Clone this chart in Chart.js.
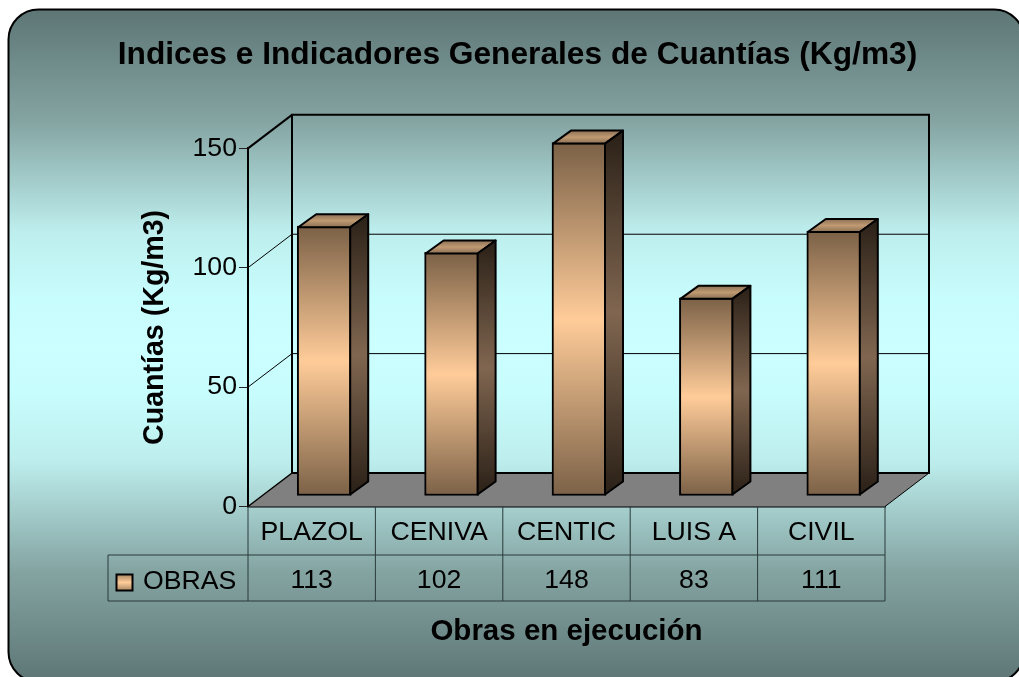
<!DOCTYPE html>
<html lang="es">
<head>
<meta charset="utf-8">
<title>Cuantías</title>
<script src="https://cdn.jsdelivr.net/npm/chart.js@4/dist/chart.umd.js"></script>
<style>
  html, body { margin: 0; background: #fff; }
  canvas { display: block; }
</style>
</head>
<body>
<canvas id="chart" width="1019" height="677"></canvas>
<script>
const categories = ['PLAZOL', 'CENIVA', 'CENTIC', 'LUIS A', 'CIVIL'];
const obrasValues = [113, 102, 148, 83, 111];
const seriesName = 'OBRAS';
const chartTitle = 'Indices e Indicadores Generales de Cuantías (Kg/m3)';
const yTitle = 'Cuantías (Kg/m3)';
const xTitle = 'Obras en ejecución';

const FONT = '"Liberation Sans", Arial, sans-serif';
const TXT = 26.67;
const WALL_DX = 44, WALL_DY = 33.5;   // back wall offset
const BAR_DX = 12.5, BAR_DY = 10.5;   // bars stand inside the floor
const SIDE_DX = 18, SIDE_DY = 13;     // bar depth
const ROW1 = 555, ROW2 = 601, KEY_LEFT = 108;

function vGrad(ctx, y0, y1, stops) {
  const g = ctx.createLinearGradient(0, y0, 0, y1);
  stops.forEach((c, i) => g.addColorStop(i / (stops.length - 1), c));
  return g;
}

function poly(ctx, pts, fill, lineWidth) {
  ctx.beginPath();
  pts.forEach((p, i) => i ? ctx.lineTo(p[0], p[1]) : ctx.moveTo(p[0], p[1]));
  ctx.closePath();
  if (fill) { ctx.fillStyle = fill; ctx.fill(); }
  if (lineWidth) { ctx.lineWidth = lineWidth; ctx.strokeStyle = '#000'; ctx.stroke(); }
}

function line(ctx, x0, y0, x1, y1, w, color) {
  ctx.beginPath();
  ctx.moveTo(x0, y0);
  ctx.lineTo(x1, y1);
  ctx.lineWidth = w;
  ctx.strokeStyle = color || '#000';
  ctx.stroke();
}

const scene = {
  id: 'scene',
  beforeDraw(chart) {
    const { ctx } = chart;
    ctx.save();
    ctx.beginPath();
    ctx.roundRect(8.5, 9.5, 1015.5, 672.5, 30);
    const g = ctx.createLinearGradient(0, 10, 0, 682);
    g.addColorStop(0, '#5d7675');
    g.addColorStop(0.165, '#84a4a2');
    g.addColorStop(0.33, '#bdeeed');
    g.addColorStop(0.43, '#c8fdfd');
    g.addColorStop(0.5, '#ccffff');
    g.addColorStop(0.57, '#c8fdfd');
    g.addColorStop(0.67, '#bdeeed');
    g.addColorStop(0.835, '#84a4a2');
    g.addColorStop(1, '#5d7675');
    ctx.fillStyle = g;
    ctx.fill();
    ctx.lineWidth = 2;
    ctx.strokeStyle = '#000';
    ctx.stroke();
    ctx.restore();
  },
  beforeDatasetsDraw(chart) {
    const { ctx, chartArea: a, scales: { y } } = chart;
    const L = a.left, R = a.right, B = a.bottom;
    ctx.save();
    // floor
    poly(ctx, [[L, B], [L + WALL_DX, B - WALL_DY], [R + WALL_DX, B - WALL_DY], [R, B]], '#808080');
    // gridlines run up the side wall and along the back
    y.ticks.forEach(t => {
      const py = y.getPixelForValue(t.value);
      if (t.value === 0 || t.value === y.max) return;
      line(ctx, L, py, L + WALL_DX, py - WALL_DY, 1);
      line(ctx, L + WALL_DX, py - WALL_DY, R + WALL_DX, py - WALL_DY, 1);
    });
    // wall frame
    const T = y.getPixelForValue(y.max);
    line(ctx, L, T, L + WALL_DX, T - WALL_DY, 2);
    line(ctx, L, B, L + WALL_DX, B - WALL_DY, 1.5);
    line(ctx, R, B, R + WALL_DX, B - WALL_DY, 1);
    ctx.beginPath();
    ctx.moveTo(L + WALL_DX, B - WALL_DY);
    ctx.lineTo(L + WALL_DX, T - WALL_DY);
    ctx.lineTo(R + WALL_DX, T - WALL_DY);
    ctx.lineTo(R + WALL_DX, B - WALL_DY);
    ctx.closePath();
    ctx.lineWidth = 2;
    ctx.strokeStyle = '#000';
    ctx.stroke();
    ctx.restore();
    // bars are drawn by the library, shifted back into the floor
    ctx.save();
    ctx.translate(BAR_DX, -BAR_DY);
  },
  afterDatasetsDraw(chart) {
    const { ctx } = chart;
    chart.getDatasetMeta(0).data.forEach(bar => {
      const l = bar.x - bar.width / 2 + 1, r = bar.x + bar.width / 2 - 1;
      const top = bar.y + 1, base = bar.base - 1;
      ctx.lineJoin = 'round';
      poly(ctx, [[l, top], [l + SIDE_DX, top - SIDE_DY], [r + SIDE_DX, top - SIDE_DY], [r, top]],
        vGrad(ctx, top - SIDE_DY, top, ['#8b7055', '#c09a72', '#8b7055']), 2);
      poly(ctx, [[r, top], [r + SIDE_DX, top - SIDE_DY], [r + SIDE_DX, base - SIDE_DY], [r, base]],
        vGrad(ctx, top - SIDE_DY, base, ['#2a2017', '#806650', '#2a2017']), 2);
    });
    ctx.restore();

    // data table under the axis
    const { chartArea: a, scales: { x } } = chart;
    const B = a.bottom, colW = (a.right - a.left) / categories.length;
    const tc = '#2b3b3b';
    ctx.save();
    line(ctx, KEY_LEFT, ROW1, a.right, ROW1, 1, tc);
    line(ctx, KEY_LEFT, ROW2, a.right, ROW2, 1, tc);
    line(ctx, KEY_LEFT, ROW1, KEY_LEFT, ROW2, 1, tc);
    for (let i = 0; i <= categories.length; i++) {
      const cx = a.left + i * colW;
      line(ctx, cx, B, cx, ROW2, 1, tc);
    }
    ctx.font = TXT + 'px ' + FONT;
    ctx.fillStyle = '#000';
    ctx.textAlign = 'center';
    ctx.textBaseline = 'middle';
    obrasValues.forEach((v, i) => ctx.fillText(String(v), x.getPixelForValue(i), 581));
    ctx.textAlign = 'left';
    ctx.fillText(seriesName, 143, 582);
    ctx.beginPath();
    ctx.rect(116.5, 574.5, 16, 16);
    ctx.fillStyle = vGrad(ctx, 574, 591, ['#a3835f', '#ffcc99', '#a3835f']);
    ctx.fill();
    ctx.lineWidth = 2;
    ctx.strokeStyle = '#000';
    ctx.stroke();
    ctx.restore();
  }
};

new Chart(document.getElementById('chart'), {
  type: 'bar',
  data: {
    labels: categories,
    datasets: [{
      label: seriesName,
      data: obrasValues,
      barThickness: 54,
      borderWidth: 2,
      borderColor: '#000',
      borderSkipped: false,
      clip: false,
      backgroundColor: c => {
        const y = c.chart.scales.y;
        const top = y ? y.getPixelForValue(c.raw) : NaN, base = y ? y.getPixelForValue(0) : NaN;
        // the first pass runs before the scales are laid out
        if (!Number.isFinite(top) || !Number.isFinite(base)) return '#ffcc99';
        return vGrad(c.chart.ctx, top, base, ['#7b6147', '#ffcc99', '#7b6147']);
      }
    }]
  },
  options: {
    responsive: false,
    animation: false,
    layout: { padding: { left: 16, right: 0, top: 0, bottom: 0 } },
    plugins: {
      legend: { display: false },
      tooltip: { enabled: false },
      title: {
        display: true,
        text: chartTitle,
        color: '#000',
        font: { family: FONT, size: 31.7, weight: 'bold' },
        padding: { top: 36.5, bottom: 73.8 }
      }
    },
    scales: {
      x: {
        grid: { drawOnChartArea: false, drawTicks: false },
        border: { display: true, color: '#000', width: 1.5 },
        ticks: { color: '#000', font: { family: FONT, size: TXT }, padding: 10, autoSkip: false, maxRotation: 0 },
        title: {
          display: true, text: xTitle, color: '#000',
          font: { family: FONT, size: 29.5, weight: 'bold' },
          padding: { top: 0, bottom: 27 }
        },
        afterFit: s => { s.height = 170.5; }
      },
      y: {
        min: 0,
        max: 150,
        grid: { drawOnChartArea: false, tickLength: 9, color: '#222' },
        border: { display: true, color: '#000', width: 2 },
        ticks: { stepSize: 50, color: '#000', font: { family: FONT, size: TXT }, padding: 2 },
        title: {
          display: true, text: yTitle, color: '#000',
          font: { family: FONT, size: 28.6, weight: 'bold' },
          padding: { top: 121.8, bottom: 0 }
        },
        afterFit: s => { s.width = 232; }
      },
      // keeps the plot short of the right edge while the title stays centred on the panel
      yRight: {
        position: 'right',
        display: true,
        grid: { display: false },
        border: { display: false },
        ticks: { display: false },
        afterFit: s => { s.width = 134; }
      }
    }
  },
  plugins: [scene]
});
</script>
</body>
</html>
